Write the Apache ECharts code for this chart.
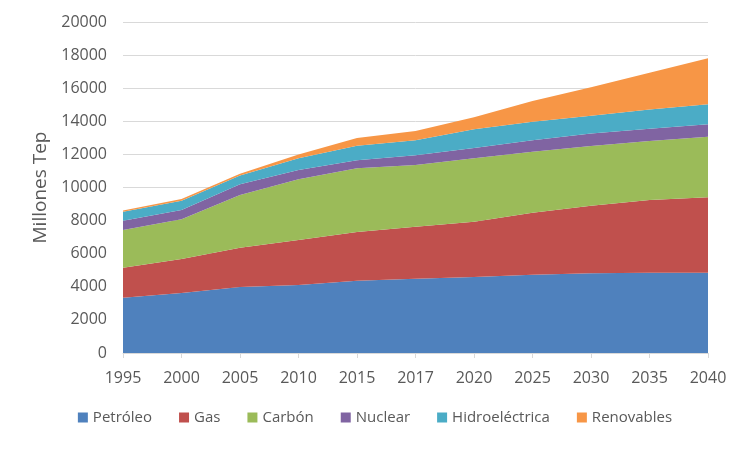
<!DOCTYPE html>
<html>
<head>
<meta charset="utf-8">
<script src="https://cdn.jsdelivr.net/npm/echarts@6/dist/echarts.min.js"></script>
<style>
  html, body { margin: 0; padding: 0; background: #fff; }
  #chart { width: 750px; height: 450px; }
</style>
</head>
<body>
<div id="chart"></div>
<script>
var years = ["1995", "2000", "2005", "2010", "2015", "2017", "2020", "2025", "2030", "2035", "2040"];
var petroleo = [3340, 3630, 3990, 4110, 4370, 4490, 4590, 4730, 4820, 4850, 4850];
var gas = [1810, 2050, 2370, 2720, 2940, 3140, 3340, 3750, 4080, 4390, 4560];
var carbon = [2280, 2400, 3190, 3670, 3850, 3730, 3830, 3680, 3610, 3570, 3660];
var nuclear = [560, 560, 640, 560, 480, 590, 630, 700, 760, 740, 750];
var hidro = [540, 560, 540, 700, 890, 910, 1130, 1110, 1070, 1160, 1210];
var renovables = [80, 100, 100, 240, 460, 560, 720, 1250, 1710, 2220, 2780];

var names = ["Petróleo", "Gas", "Carbón", "Nuclear", "Hidroeléctrica", "Renovables"];
var colors = ["#4f81bd", "#c0504d", "#9bbb59", "#8064a2", "#4bacc6", "#f79646"];
var values = [petroleo, gas, carbon, nuclear, hidro, renovables];

var myChart = echarts.init(document.getElementById("chart"), null, { renderer: "canvas" });

var series = names.map(function (n, i) {
  return {
    name: n,
    type: "line",
    stack: "total",
    data: values[i],
    symbol: "none",
    lineStyle: { width: 0 },
    areaStyle: { color: colors[i], opacity: 1 },
    itemStyle: { color: colors[i] },
    emphasis: { disabled: true }
  };
});

var option = {
  animation: false,
  textStyle: { fontFamily: "Open Sans" },
  grid: { left: 123, right: 42, top: 22, bottom: 97 },
  legend: {
    bottom: 20,
    left: "center",
    itemWidth: 10,
    itemHeight: 10,
    itemGap: 27,
    icon: "rect",
    textStyle: { fontSize: 15, color: "#595959", fontFamily: "Open Sans" },
    data: names
  },
  xAxis: {
    type: "category",
    data: years,
    boundaryGap: false,
    axisLine: { lineStyle: { color: "#d9d9d9" } },
    axisTick: { show: true, length: 5, lineStyle: { color: "#d9d9d9" } },
    axisLabel: { fontSize: 16, color: "#595959", margin: 17 }
  },
  yAxis: {
    type: "value",
    min: 0,
    max: 20000,
    interval: 2000,
    name: "Millones Tep",
    nameLocation: "middle",
    nameGap: 72,
    nameTextStyle: { fontSize: 19, color: "#595959" },
    axisLine: { show: false },
    axisTick: { show: false },
    axisLabel: {
      fontSize: 16,
      color: "#595959",
      margin: 16,
      formatter: function (v) { return String(v); }
    },
    splitLine: { lineStyle: { color: "#d9d9d9", width: 1 } }
  },
  series: series
};

myChart.setOption(option);
window.addEventListener("resize", myChart.resize);
</script>
</body>
</html>
